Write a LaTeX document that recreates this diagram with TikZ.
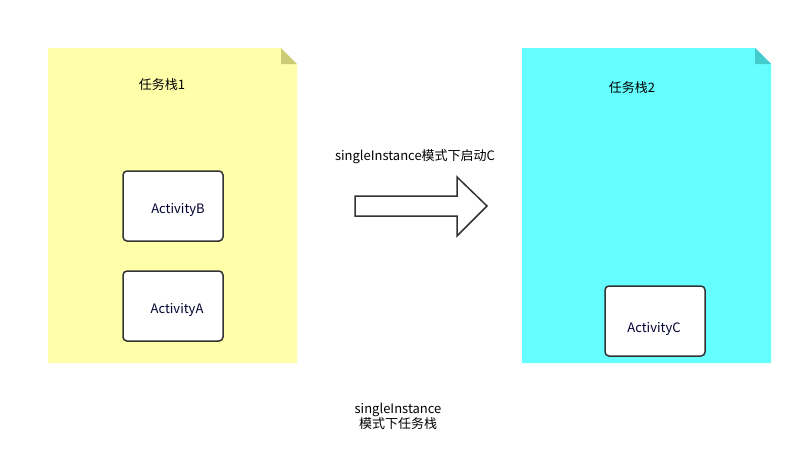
\documentclass[tikz,border=0pt]{standalone}
\usepackage{fontspec}
\setmainfont{Noto Sans CJK SC}
\definecolor{yel}{HTML}{FFFFAA}
\definecolor{yelfold}{HTML}{CCCC77}
\definecolor{cy}{HTML}{66FFFF}
\definecolor{cyfold}{HTML}{44CCCC}
\definecolor{edge}{HTML}{333333}
\definecolor{txt}{HTML}{000033}
\begin{document}
\begin{tikzpicture}[x=1pt,y=-1pt,
  lbl/.style={font=\fontsize{13}{15}\selectfont, text=black, inner sep=0pt, align=center},
  actbox/.style={draw=edge, line width=1.5pt, fill=white, rounded corners=4pt, minimum width=100pt, minimum height=70pt, inner sep=0pt},
  acttext/.style={font=\fontsize{13}{15}\selectfont, text=txt, inner sep=0pt}]
\useasboundingbox (0,0) rectangle (803,467);
\fill[white] (0,0) rectangle (803,467);
% note 1
\fill[yel] (48,48) -- (281,48) -- (297,64) -- (297,363) -- (48,363) -- cycle;
\fill[yelfold] (281,48) -- (297,64) -- (281,64) -- cycle;
% note 2
\fill[cy] (522,48) -- (755,48) -- (771,64) -- (771,363) -- (522,363) -- cycle;
\fill[cyfold] (755,48) -- (771,64) -- (755,64) -- cycle;
\node[lbl] (t1) at (162,85) {任务栈1};
\node[lbl] (t2) at (632,88) {任务栈2};
\node[actbox] (bB) at (173,206) {};
\node[acttext] (lB) at (178,210) {ActivityB};
\node[actbox] (bA) at (173,306) {};
\node[acttext] (lA) at (177,310) {ActivityA};
\node[actbox] (bC) at (655,321) {};
\node[acttext] (lC) at (654,329) {ActivityC};
% arrow
\draw[edge, line width=1.5pt, fill=white, line join=miter]
  (355,196) -- (457,196) -- (457,177) -- (487,206) -- (457,236) -- (457,216) -- (355,216) -- cycle;
\node[lbl] (ta) at (415,157) {singleInstance模式下启动C};
\node[lbl] (tb) at (398,416.5) {singleInstance\\[-0.5pt]模式下任务栈};
\end{tikzpicture}
\end{document}
